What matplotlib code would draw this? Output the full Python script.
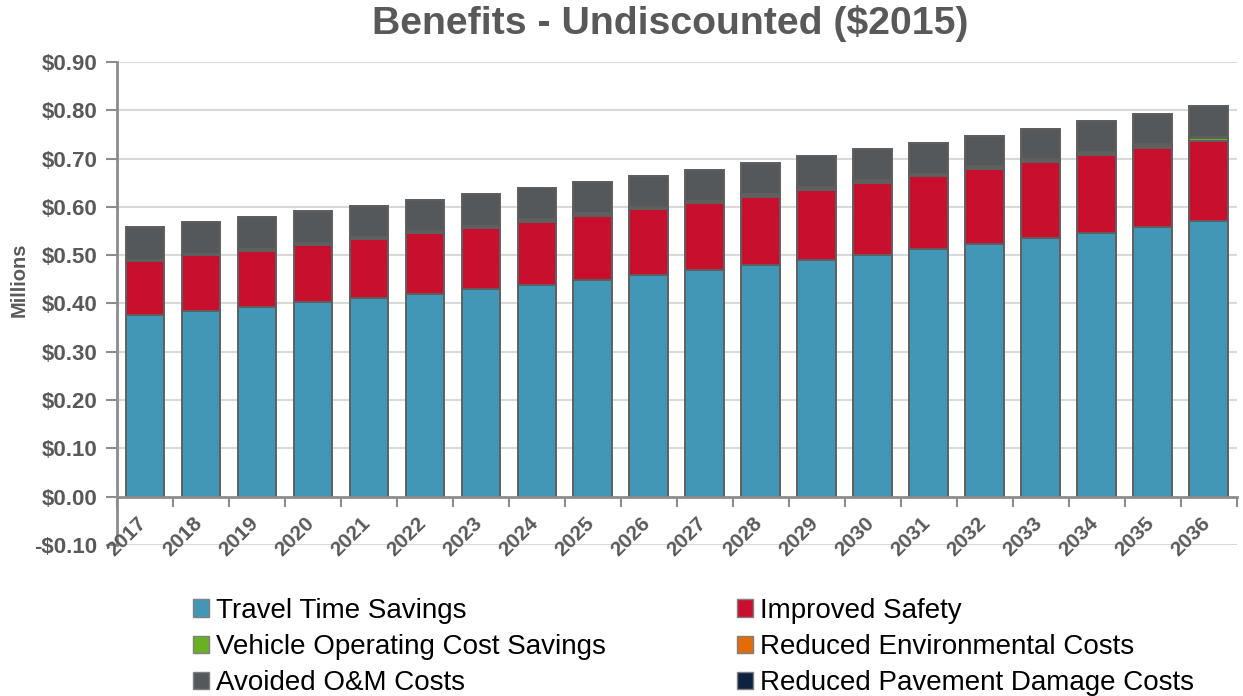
import numpy as np
import matplotlib
matplotlib.use("Agg")
import matplotlib.pyplot as plt
import matplotlib.transforms as mtransforms
from matplotlib.patches import Patch
from matplotlib.ticker import FuncFormatter, FixedLocator

plt.rcParams['font.family'] = ['Liberation Sans', 'DejaVu Sans']

# ---------------------------------------------------------------------
# Data (millions of $2015)
# ---------------------------------------------------------------------
years = [str(y) for y in range(2017, 2037)]
travel_time = [0.376, 0.385, 0.393, 0.402, 0.411, 0.420, 0.429, 0.439, 0.449, 0.459,
               0.469, 0.479, 0.490, 0.501, 0.512, 0.523, 0.535, 0.546, 0.558, 0.571]
safety = [0.112, 0.115, 0.116, 0.119, 0.123, 0.125, 0.128, 0.130, 0.133, 0.136,
          0.138, 0.142, 0.145, 0.148, 0.151, 0.155, 0.157, 0.161, 0.164, 0.166]
vehicle_op = [0.003, 0.003, 0.003, 0.003, 0.003, 0.003, 0.003, 0.004, 0.004, 0.004,
              0.004, 0.004, 0.004, 0.004, 0.004, 0.004, 0.005, 0.005, 0.005, 0.005]
environmental = [0.000, 0.000, 0.000, 0.001, 0.001, 0.001, 0.001, 0.001, 0.001, 0.001,
                 0.001, 0.002, 0.002, 0.002, 0.002, 0.002, 0.002, 0.002, 0.003, 0.003]
avoided_om = [0.067, 0.066, 0.067, 0.066, 0.064, 0.065, 0.065, 0.064, 0.064, 0.064,
              0.065, 0.064, 0.064, 0.064, 0.064, 0.063, 0.063, 0.063, 0.063, 0.064]
pavement = [0.0] * 20

series = [
    ("Travel Time Savings", travel_time, "#4397B6"),
    ("Improved Safety", safety, "#C8102E"),
    ("Vehicle Operating Cost Savings", vehicle_op, "#6AB023"),
    ("Reduced Environmental Costs", environmental, "#E36C09"),
    ("Avoided O&M Costs", avoided_om, "#54585A"),
    ("Reduced Pavement Damage Costs", pavement, "#0D223F"),
]

y_ticks = [-0.1, 0.0, 0.1, 0.2, 0.3, 0.4, 0.5, 0.6, 0.7, 0.8, 0.9]

# ---------------------------------------------------------------------
# Plot
# ---------------------------------------------------------------------
gray = "#595959"
fig = plt.figure(figsize=(12.43, 6.96), dpi=100)
ax = fig.add_axes([0.094, 0.217, 0.901, 0.694])

x = np.arange(len(years))
for level in y_ticks:
    if level != 0:
        ax.axhline(level, color="#D9D9D9", linewidth=1.5, zorder=0)

bottom = np.zeros(len(years))
for name, vals, color in series:
    vals = np.array(vals)
    ax.bar(x, vals, bottom=bottom, width=0.69, color=color,
           edgecolor="#5F5F5F", linewidth=1.4, zorder=2)
    bottom += vals

ax.set_xlim(-0.45, len(years) - 0.52)
ax.set_ylim(-0.1, 0.9)
ax.yaxis.set_major_locator(FixedLocator(y_ticks))
ax.yaxis.set_major_formatter(FuncFormatter(
    lambda v, p: f"-${abs(v):.2f}" if v < -1e-9 else f"${v:.2f}"))

for side in ["top", "right"]:
    ax.spines[side].set_visible(False)
ax.spines["bottom"].set_position(("data", 0))
for side in ["left", "bottom"]:
    ax.spines[side].set_color("#8C8C8C")
    ax.spines[side].set_linewidth(2)

# year labels: drawn as text so they can sit like the original
ax.set_xticks(x)
ax.set_xticklabels([])
shift = mtransforms.ScaledTranslation(-8 / 100, -17 / 100, fig.dpi_scale_trans)
for xi, yr in zip(x, years):
    ax.text(xi, 0, yr, transform=ax.transData + shift, rotation=45,
            ha="right", va="top", rotation_mode="anchor", fontsize=15,
            fontweight="bold", color=gray, clip_on=False)
ax.set_xticks(np.arange(len(years) + 1) - 0.5, minor=True)
ax.tick_params(axis="x", which="major", length=0)
ax.tick_params(axis="x", which="minor", length=7, width=1.5, color="#8C8C8C")
ax.tick_params(axis="y", length=8, width=1.5, color="#8C8C8C", pad=6,
               labelsize=16, labelcolor=gray)
for lab in ax.get_yticklabels():
    lab.set_fontweight("bold")

ax.set_ylabel("Millions", fontsize=14.5, fontweight="bold", color=gray)
ax.yaxis.set_label_coords(-0.079, 0.55)
fig.text(0.539, 1 - 24 / 696, "Benefits - Undiscounted ($2015)", fontsize=28.3,
         fontweight="bold", color=gray, ha="center", va="center")

# legend ordered so that ncol=2 fills rows like the original
order = [0, 2, 4, 1, 3, 5]
handles = [Patch(facecolor=series[i][2], edgecolor="#7F7F7F", linewidth=1,
                 label=series[i][0]) for i in order]
fig.legend(handles=handles, loc="upper left", bbox_to_anchor=(0.155, 0.141),
           ncol=2, frameon=False, fontsize=20, handlelength=0.6,
           handleheight=0.6, handletextpad=0.25, columnspacing=4.7,
           labelspacing=0.37, borderpad=0, borderaxespad=0)

fig.savefig("out.png", dpi=100)
